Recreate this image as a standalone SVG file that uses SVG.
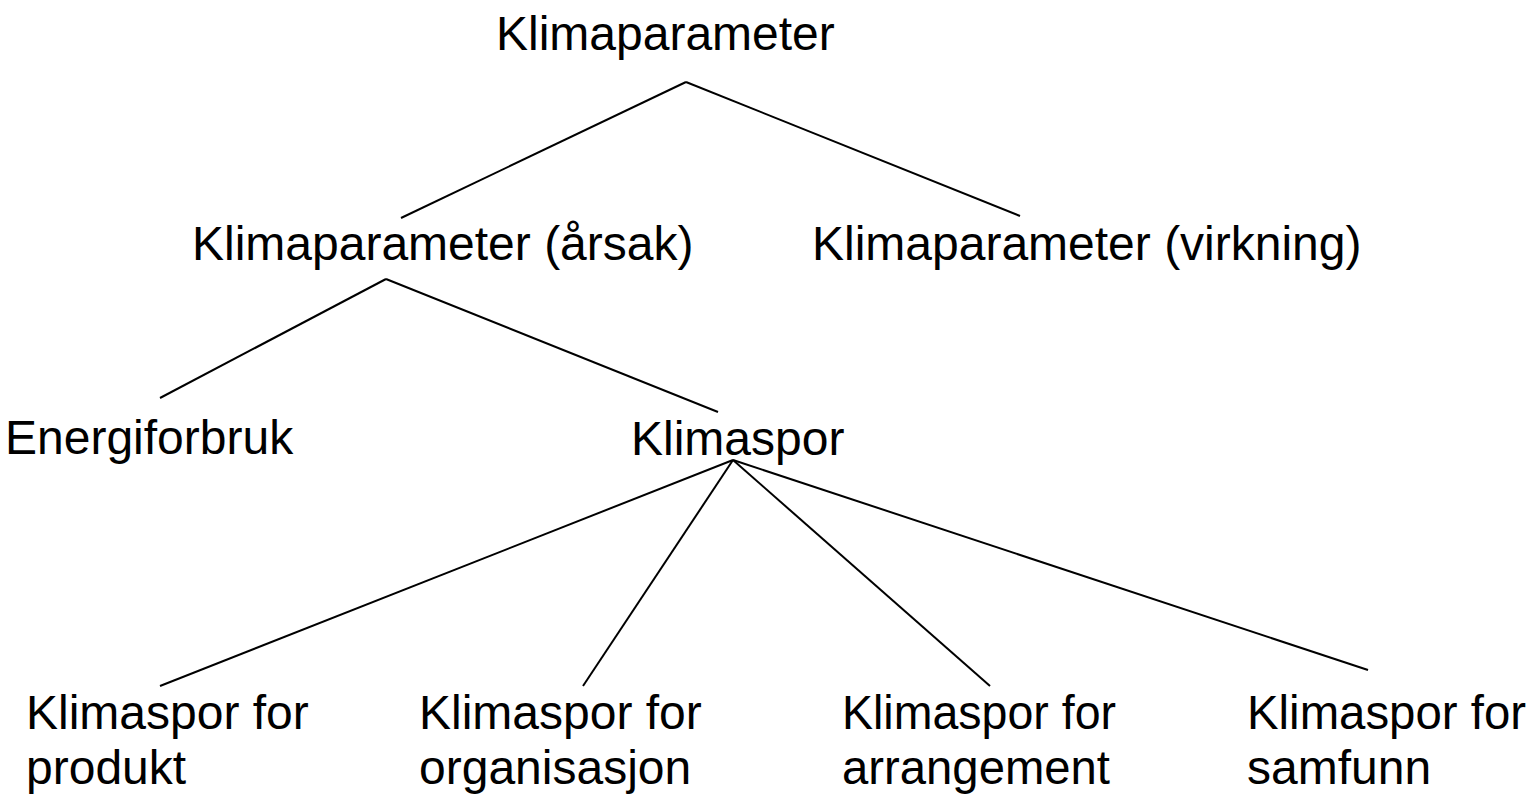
<svg xmlns="http://www.w3.org/2000/svg" width="1539" height="796" viewBox="0 0 1539 796">
<style>
.t{font-family:"Liberation Sans",Arial,sans-serif;font-size:48px;fill:#000}
.c line{stroke:#000;stroke-width:2;fill:none}
</style>
<rect width="1539" height="796" fill="#fff"/>
<g class="c" id="connectors">
<line x1="686" y1="82" x2="401" y2="218"/>
<line x1="686" y1="82" x2="1020" y2="216"/>
<line x1="386" y1="279" x2="160" y2="398"/>
<line x1="386" y1="279" x2="718" y2="412"/>
<line x1="733" y1="460" x2="160" y2="686"/>
<line x1="733" y1="460" x2="583" y2="686"/>
<line x1="733" y1="460" x2="990" y2="686"/>
<line x1="733" y1="460" x2="1368" y2="670"/>
</g>
<g id="n-klimaparameter"><text class="t" x="496" y="50">Klimaparameter</text></g>
<g id="n-arsak"><text class="t" x="192" y="260">Klimaparameter (årsak)</text></g>
<g id="n-virkning"><text class="t" x="812" y="260">Klimaparameter (virkning)</text></g>
<g id="n-energi"><text class="t" x="5" y="454">Energiforbruk</text></g>
<g id="n-klimaspor"><text class="t" x="631" y="455">Klimaspor</text></g>
<g id="n-produkt"><text class="t" x="26" y="729">Klimaspor for</text><text class="t" x="26" y="784">produkt</text></g>
<g id="n-organisasjon"><text class="t" x="419" y="729">Klimaspor for</text><text class="t" x="419" y="784">organisasjon</text></g>
<g id="n-arrangement"><text class="t" x="842" y="729" textLength="274" lengthAdjust="spacingAndGlyphs">Klimaspor for</text><text class="t" x="842" y="784" textLength="268" lengthAdjust="spacingAndGlyphs">arrangement</text></g>
<g id="n-samfunn"><text class="t" x="1247" y="729" textLength="279" lengthAdjust="spacingAndGlyphs">Klimaspor for</text><text class="t" x="1247" y="784">samfunn</text></g>
</svg>
